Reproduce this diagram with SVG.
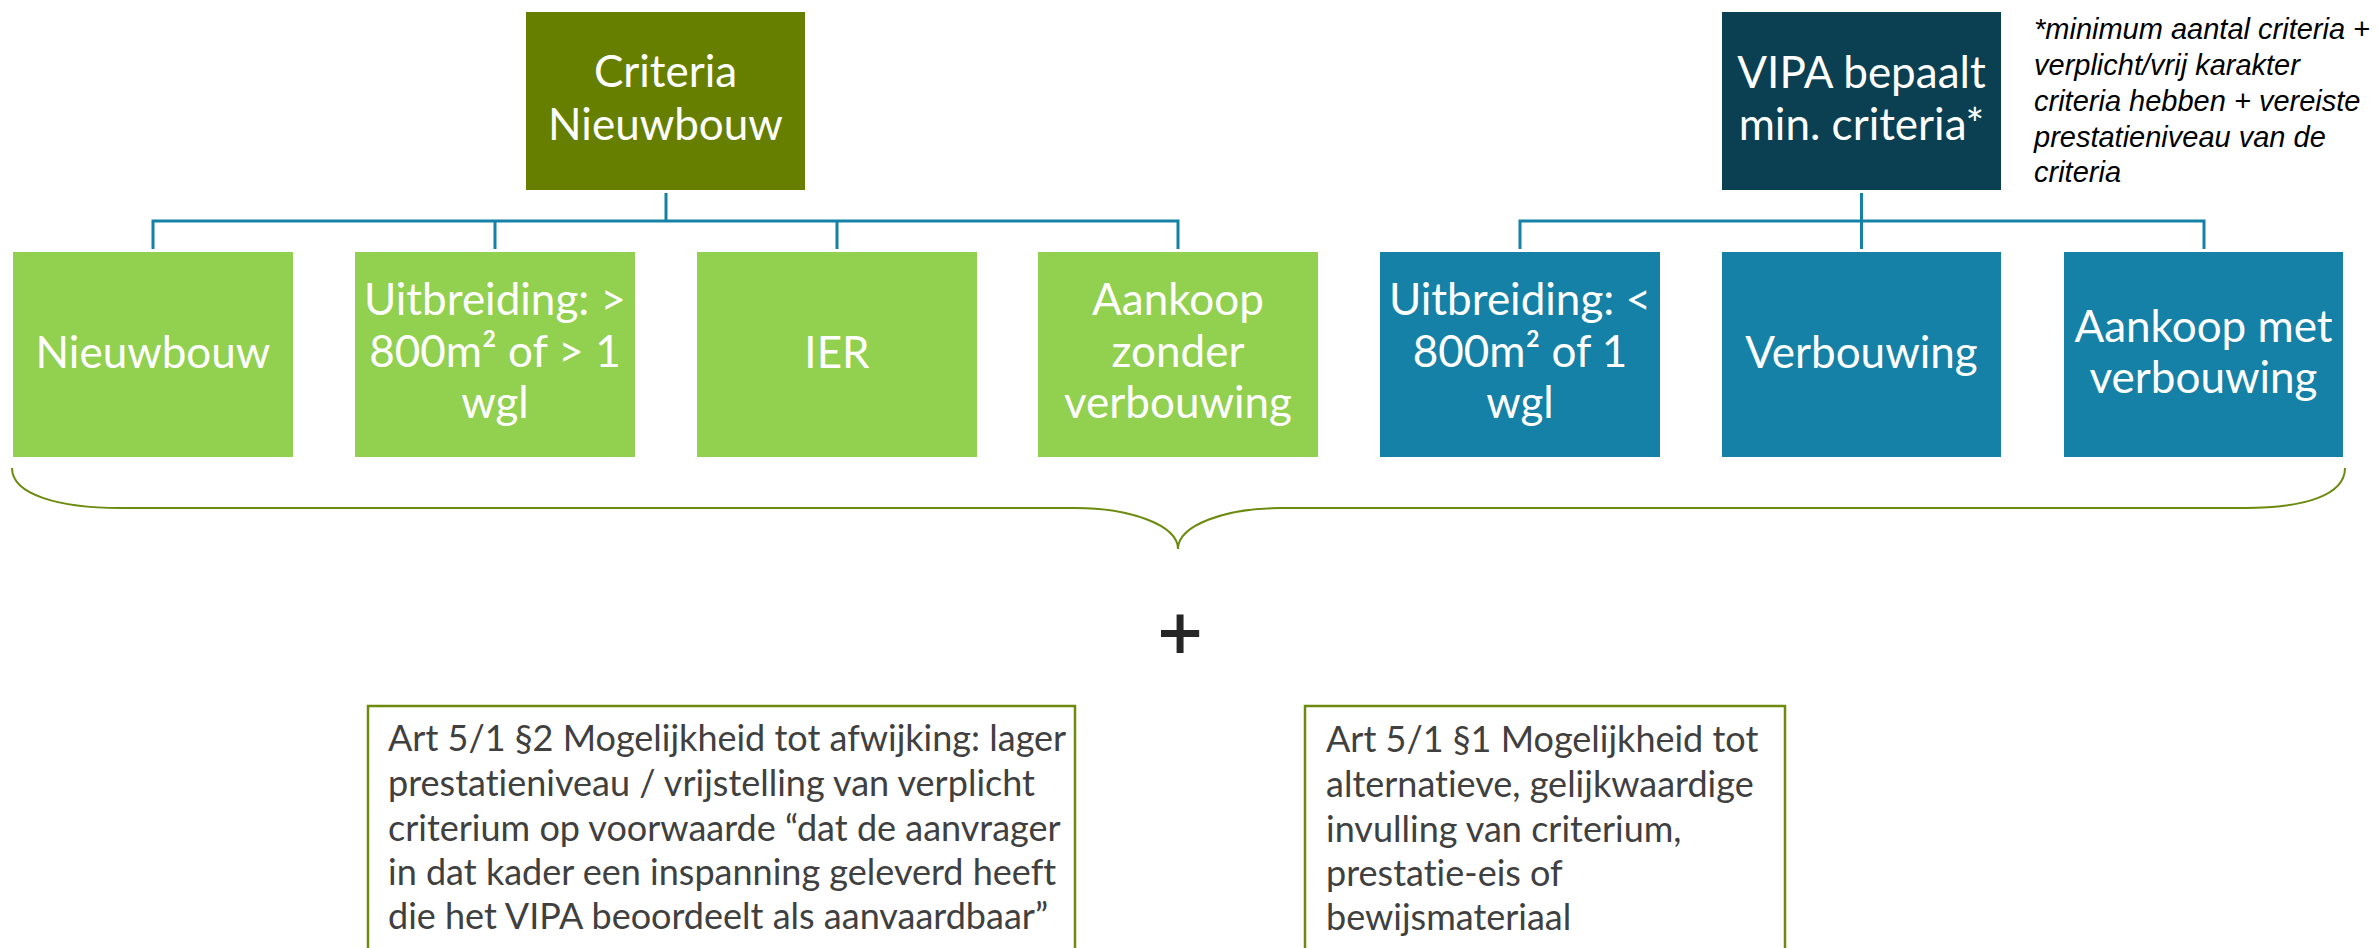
<svg xmlns="http://www.w3.org/2000/svg" width="2379" height="948" viewBox="0 0 2379 948">
<style>
.box{stroke:none}
.green{fill:#92d050}
.blue{fill:#1581a6}
.olive{fill:#667f00}
.dark{fill:#0b3f52}
.bt{font-family:Lato,"Open Sans",sans-serif;font-size:44px;fill:#ffffff;text-anchor:middle;font-variant-ligatures:none}
.conn{stroke:#1581a6;stroke-width:3;fill:none}
.note{font-family:"Liberation Sans",Arial,sans-serif;font-style:italic;font-size:29px;fill:#000000}
.bot{font-family:Lato,"Open Sans",sans-serif;font-size:36px;fill:#404040;font-variant-ligatures:none}
.frame{fill:#ffffff;stroke:#6b8a0e;stroke-width:2.5}
.brace{fill:none;stroke:#6b8a0e;stroke-width:2}
</style>
<rect width="2379" height="948" fill="#ffffff"/>
<g id="connectors">
<path class="conn" d="M666 193V221M153 249V221H1178V249M495 221V249M837 221V249"/>
<path class="conn" d="M1861.5 193V249M1520 249V221H2204V249"/>
</g>
<g id="n-criteria">
<rect class="box olive" x="526" y="12" width="279" height="178"/>
<text class="bt" x="665.5" y="87">Criteria</text>
<text class="bt" x="665.5" y="140">Nieuwbouw</text>
</g>
<g id="n-vipa">
<rect class="box dark" x="1722" y="12" width="279" height="178"/>
<text class="bt" x="1861.5" y="88">VIPA bepaalt</text>
<text class="bt" x="1861.5" y="140">min. criteria*</text>
</g>
<g id="n-note">
<text class="note" x="2034" y="39">*minimum aantal criteria +</text>
<text class="note" x="2034" y="75">verplicht/vrij karakter</text>
<text class="note" x="2034" y="111">criteria hebben + vereiste</text>
<text class="note" x="2034" y="147">prestatieniveau van de</text>
<text class="note" x="2034" y="182">criteria</text>
</g>
<g id="n-nieuwbouw">
<rect class="box green" x="13" y="252" width="280" height="205"/>
<text class="bt" x="153" y="368">Nieuwbouw</text>
</g>
<g id="n-uitbreiding-groot">
<rect class="box green" x="355" y="252" width="280" height="205"/>
<text class="bt" x="495" y="315">Uitbreiding: &gt;</text>
<text class="bt" x="495" y="367">800m² of &gt; 1</text>
<text class="bt" x="495" y="418">wgl</text>
</g>
<g id="n-ier">
<rect class="box green" x="697" y="252" width="280" height="205"/>
<text class="bt" x="837" y="368">IER</text>
</g>
<g id="n-aankoop-zonder">
<rect class="box green" x="1038" y="252" width="280" height="205"/>
<text class="bt" x="1178" y="315">Aankoop</text>
<text class="bt" x="1178" y="367">zonder</text>
<text class="bt" x="1178" y="418">verbouwing</text>
</g>
<g id="n-uitbreiding-klein">
<rect class="box blue" x="1380" y="252" width="280" height="205"/>
<text class="bt" x="1520" y="315">Uitbreiding: &lt;</text>
<text class="bt" x="1520" y="367">800m² of 1</text>
<text class="bt" x="1520" y="418">wgl</text>
</g>
<g id="n-verbouwing">
<rect class="box blue" x="1722" y="252" width="279" height="205"/>
<text class="bt" x="1861.5" y="368">Verbouwing</text>
</g>
<g id="n-aankoop-met">
<rect class="box blue" x="2064" y="252" width="279" height="205"/>
<text class="bt" x="2203.5" y="342">Aankoop met</text>
<text class="bt" x="2203.5" y="393">verbouwing</text>
</g>
<g id="brace">
<path class="brace" d="M12 468C12 495 60 508 120 508L1075 508C1130 508 1178 525 1178 549C1178 525 1226 508 1281 508L2245 508C2305 508 2345 495 2345 468"/>
</g>
<g id="plus">
<text x="1180" y="662" font-family="'Open Sans',sans-serif" font-weight="600" font-size="80" fill="#262626" text-anchor="middle">+</text>
</g>
<g id="n-art52">
<rect class="frame" x="368" y="706" width="707" height="260"/>
<text class="bot" x="388" y="751">Art 5/1 §2 Mogelijkheid tot afwijking: lager</text>
<text class="bot" x="388" y="796">prestatieniveau / vrijstelling van verplicht</text>
<text class="bot" x="388" y="841">criterium op voorwaarde “dat de aanvrager</text>
<text class="bot" x="388" y="885">in dat kader een inspanning geleverd heeft</text>
<text class="bot" x="388" y="929">die het VIPA beoordeelt als aanvaardbaar”</text>
</g>
<g id="n-art51">
<rect class="frame" x="1305" y="706" width="480" height="260"/>
<text class="bot" x="1326" y="752">Art 5/1 §1 Mogelijkheid tot</text>
<text class="bot" x="1326" y="797">alternatieve, gelijkwaardige</text>
<text class="bot" x="1326" y="842">invulling van criterium,</text>
<text class="bot" x="1326" y="886">prestatie-eis of</text>
<text class="bot" x="1326" y="930">bewijsmateriaal</text>
</g>
</svg>
